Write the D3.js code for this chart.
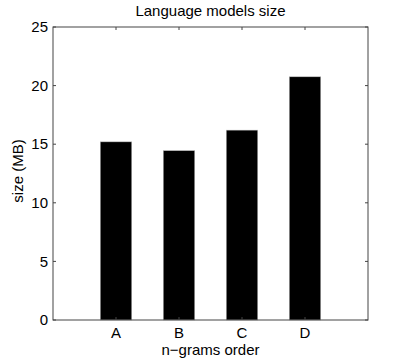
<!DOCTYPE html>
<html><head><meta charset="utf-8">
<script src="https://cdn.jsdelivr.net/npm/d3@7/dist/d3.min.js"></script>
<style>body{margin:0;background:#fff}text{font-family:"Liberation Sans",Arial,sans-serif;fill:#000}</style>
</head><body>
<script>
const categories = ["A","B","C","D"];
const sizes = [15.2, 14.45, 16.2, 20.75];
const yTicks = [0,5,10,15,20,25];
const title = "Language models size";
const xLabel = "n\u2212grams order";
const yLabel = "size (MB)";

const W = 407, H = 361;
const m = {l:53, r:39, t:27, b:41};
const svg = d3.select("body").append("svg").attr("width",W).attr("height",H);
const x = d3.scaleLinear().domain([0,5]).range([m.l, W-m.r]);
const y = d3.scaleLinear().domain([0,25]).range([H-m.b, m.t]);
const fs = 15;
const axc = "#444";

svg.selectAll("rect.bar").data(sizes).enter().append("rect")
  .attr("x",(d,i)=>x(i+1-0.25)).attr("width",x(0.5)-x(0))
  .attr("y",d=>y(d)).attr("height",d=>y(0)-y(d))
  .attr("fill","#000").attr("stroke","#bbb").attr("stroke-width",0.5);

const g = svg.append("g");
g.append("rect").attr("x",x(0)).attr("y",y(25)).attr("width",x(5)-x(0)).attr("height",y(0)-y(25))
  .attr("fill","none").attr("stroke",axc).attr("stroke-width",1);
const tl = 3;
yTicks.forEach(t=>{
  g.append("line").attr("x1",x(0)).attr("x2",x(0)+tl).attr("y1",y(t)).attr("y2",y(t)).attr("stroke",axc);
  g.append("line").attr("x1",x(5)).attr("x2",x(5)-tl).attr("y1",y(t)).attr("y2",y(t)).attr("stroke",axc);
});
categories.forEach((c,i)=>{
  g.append("line").attr("x1",x(i+1)).attr("x2",x(i+1)).attr("y1",y(0)).attr("y2",y(0)-tl).attr("stroke",axc);
  g.append("line").attr("x1",x(i+1)).attr("x2",x(i+1)).attr("y1",y(25)).attr("y2",y(25)+tl).attr("stroke",axc);
});
svg.selectAll("text.yt").data(yTicks).enter().append("text")
  .attr("x",x(0)-5).attr("y",d=>y(d)).attr("dy","0.35em").attr("text-anchor","end")
  .attr("font-size",fs).text(d=>d);
svg.selectAll("text.xt").data(categories).enter().append("text")
  .attr("x",(d,i)=>x(i+1)).attr("y",338).attr("text-anchor","middle")
  .attr("font-size",fs).text(d=>d);
svg.append("text").attr("x",(x(0)+x(5))/2).attr("y",355).attr("text-anchor","middle").attr("font-size",fs).text(xLabel);
svg.append("text").attr("x",(x(0)+x(5))/2).attr("y",16).attr("text-anchor","middle").attr("font-size",fs).text(title);
svg.append("text").attr("transform",`translate(23,171) rotate(-90)`).attr("text-anchor","middle").attr("font-size",fs).text(yLabel);
</script>
</body></html>
